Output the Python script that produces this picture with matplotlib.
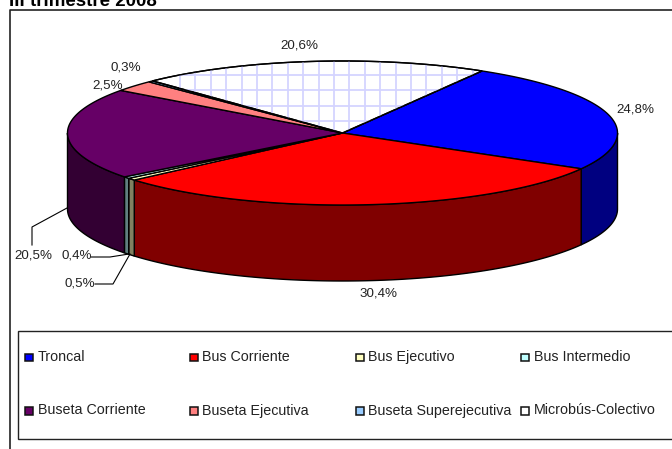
#!/usr/bin/env python3
"""3D-look pie of passenger share by vehicle type, III trimestre 2008."""

import numpy as np
import matplotlib
matplotlib.use("Agg")
import matplotlib.pyplot as plt
from matplotlib.patches import Polygon, Rectangle

plt.rcParams["font.family"] = ["Liberation Sans", "DejaVu Sans"]

# ---------------------------------------------------------------------------
# Data
# ---------------------------------------------------------------------------
CATEGORIES = ["Troncal", "Bus Corriente", "Bus Ejecutivo", "Bus Intermedio",
              "Buseta Corriente", "Buseta Ejecutiva", "Buseta Superejecutiva",
              "Microbús-Colectivo"]
VALUES = [24.8, 30.4, 0.5, 0.4, 20.5, 2.5, 0.3, 20.6]
VALUE_LABELS = ["24,8%", "30,4%", "0,5%", "0,4%", "20,5%", "2,5%", "0,3%", "20,6%"]
TITLE = "III trimestre 2008"

# Palette: top face and darker side face
TOP_COLORS = ["#0000FF", "#FF0000", "#FFFFC0", "#C0FFFF",
              "#660066", "#FF8080", "#99CCFF", "#FFFFFF"]
SIDE_COLORS = ["#000080", "#800000", "#808060", "#608080",
               "#330033", "#804040", "#4C6680", "#808080"]

# Pie geometry in image pixels
CX, CY = 342.5, 133.0
RX, RY = 275.0, 72.0
DEPTH = 76.0
START_ANGLE = 59.5

# label anchor positions (x, y)
LABEL_POS = [(635, 109), (379, 293), (80, 284), (76.5, 256),
             (33, 256), (107.5, 86), (126, 67.5), (299.5, 46)]
LEADERS = [[(67, 208), (32, 227), (32, 245)],
           [(91, 257), (110, 257), (129, 254)],
           [(95, 284), (113, 284), (130, 254)]]

LEGEND_COLS = [25, 190, 356, 521]
LEGEND_ROWS = [357, 410.5]
HATCH_COLOR = "#D4D4FF"


def arc(a0, a1, dy=0.0):
    t = np.radians(np.linspace(a0, a1, max(2, int(abs(a1 - a0) * 2))))
    return np.column_stack([CX + RX * np.cos(t), CY - RY * np.sin(t) + dy])


def main():
    fig = plt.figure(figsize=(6.72, 4.49), dpi=100)
    ax = fig.add_axes([0, 0, 1, 1])
    ax.set_xlim(0, 672)
    ax.set_ylim(449, 0)
    ax.axis("off")

    # chart frame, open on the right
    ax.plot([672, 9.7, 9.7], [10, 10, 449], color="#222222", lw=1.2, zorder=1)
    # the reference crops the title at the top edge
    ax.text(9, 5.5, TITLE, fontsize=13.5, fontweight="bold", ha="left",
            va="baseline", color="black", zorder=6)

    edges = START_ANGLE - np.cumsum([0] + VALUES) * 3.6

    # side walls: only what falls on the front half of the ellipse
    for i in range(len(VALUES)):
        a0, a1 = edges[i], edges[i + 1]
        a0, a1 = min(a0, 0), max(a1, -180)
        if a0 <= a1:
            continue
        pts = np.vstack([arc(a0, a1), arc(a1, a0, DEPTH)])
        ax.add_patch(Polygon(pts, closed=True, facecolor=SIDE_COLORS[i],
                             edgecolor="black", lw=1.0, zorder=2))

    # top faces
    for i in range(len(VALUES)):
        pts = np.vstack([[CX, CY], arc(edges[i], edges[i + 1])])
        poly = Polygon(pts, closed=True, facecolor=TOP_COLORS[i],
                       edgecolor="black", lw=1.0, zorder=3)
        ax.add_patch(poly)
        if CATEGORIES[i] == "Microbús-Colectivo":
            clip = Polygon(pts, closed=True, transform=ax.transData)
            for x in np.arange(180, 520, 15.4):
                ln, = ax.plot([x, x], [50, 140], color=HATCH_COLOR, lw=1.3, zorder=3.1)
                ln.set_clip_path(clip)
            for y in np.arange(75, 140, 15.4):
                ln, = ax.plot([130, 520], [y, y], color=HATCH_COLOR, lw=1.3, zorder=3.1)
                ln.set_clip_path(clip)
            ax.add_patch(Polygon(pts, closed=True, fill=False,
                                 edgecolor="black", lw=1.0, zorder=3.2))

    # value labels and leaders
    for text, (x, y) in zip(VALUE_LABELS, LABEL_POS):
        ax.text(x, y, text, fontsize=9.6, ha="center", va="center",
                color="#222222", zorder=5)
    for line in LEADERS:
        xs, ys = zip(*line)
        ax.plot(xs, ys, color="black", lw=0.8, zorder=4)

    # legend
    ax.add_patch(Rectangle((17.5, 330.5), 700, 108.5, facecolor="white",
                           edgecolor="#222222", lw=1.0, zorder=1.5))
    for i, name in enumerate(CATEGORIES):
        x = LEGEND_COLS[i % 4]
        y = LEGEND_ROWS[i // 4]
        ax.add_patch(Rectangle((x, y - 3.5), 7.5, 7.5, facecolor=TOP_COLORS[i],
                               edgecolor="#111111", lw=1.1, zorder=4))
        ax.text(x + 12.5, y, name, fontsize=10.3, ha="left", va="center",
                color="#222222", zorder=5)

    fig.savefig("out.png", dpi=100)
    plt.close(fig)


if __name__ == "__main__":
    main()
